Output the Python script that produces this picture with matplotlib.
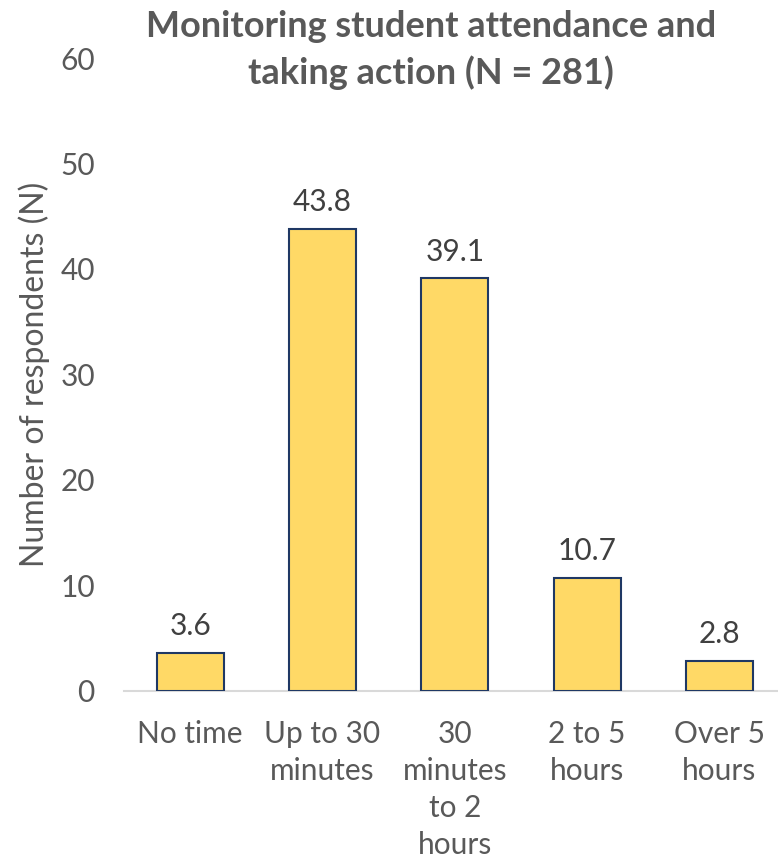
import matplotlib
matplotlib.use("Agg")
import matplotlib.pyplot as plt

categories = ["No time", "Up to 30\nminutes", "30\nminutes\nto 2\nhours", "2 to 5\nhours", "Over 5\nhours"]
values = [3.6, 43.8, 39.1, 10.7, 2.8]
y_ticks = [0, 10, 20, 30, 40, 50, 60]
title = "Monitoring student attendance and\ntaking action (N = 281)"
y_label = "Number of respondents (N)"

plt.rcParams["font.family"] = ["Lato", "DejaVu Sans"]

W, H = 778, 861
fig = plt.figure(figsize=(W / 100, H / 100), dpi=100)
left, right = 124, 785.5
top, bottom = 58, 690.5
ax = fig.add_axes([left / W, 1 - bottom / H, (right - left) / W, (bottom - top) / H])

x = range(len(categories))
bars = ax.bar(x, values, width=0.507, color="#FFD966", edgecolor="#1F3864", linewidth=1.5, zorder=3)

for xi, v in zip(x, values):
    ax.annotate(f"{v:.1f}", (xi, v), xytext=(0, 9), textcoords="offset points",
                ha="center", va="bottom", fontsize=21.5, color="#404040")

ax.set_xlim(-0.5, len(categories) - 0.5)
ax.set_ylim(0, 60)
ax.set_yticks(y_ticks)
ax.set_xticks(list(x))
ax.set_xticklabels(categories, fontsize=21.5, color="#595959", linespacing=1.39, va="top")
ax.tick_params(axis="y", labelsize=21.5, labelcolor="#595959", length=0, pad=21)
ax.tick_params(axis="x", length=0, pad=21)

for s in ["top", "right", "left"]:
    ax.spines[s].set_visible(False)
ax.spines["bottom"].set_color("#D9D9D9")
ax.spines["bottom"].set_linewidth(1.5)

ax.set_ylabel(y_label, fontsize=23, color="#595959", labelpad=7)

fig.text(431 / W, 1 - 50 / H, title, ha="center", va="center", fontsize=26,
         fontweight="bold", color="#595959", linespacing=1.4)

fig.savefig("out.png", dpi=100, facecolor="white")
